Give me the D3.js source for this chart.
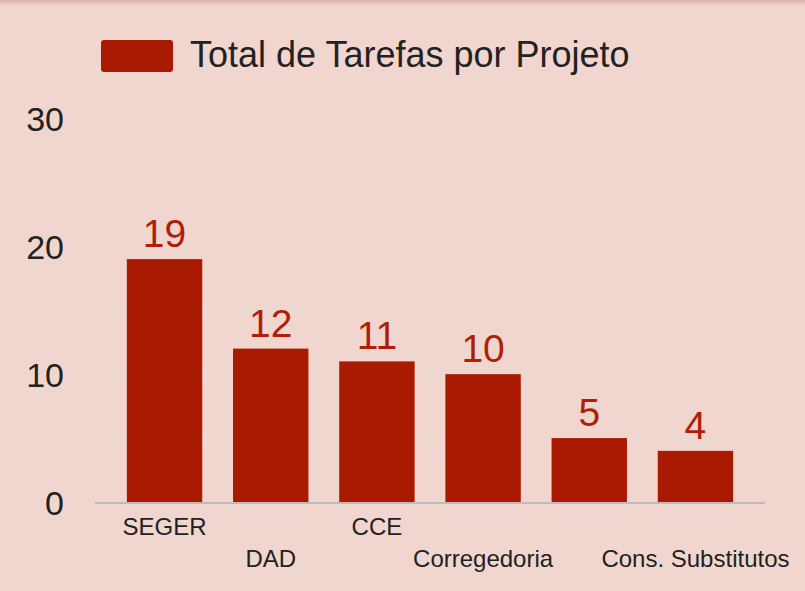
<!DOCTYPE html>
<html>
<head>
<meta charset="utf-8">
<script src="https://cdn.jsdelivr.net/npm/d3@7"></script>
<style>
  html, body { margin: 0; padding: 0; background: #f1d6d0; }
  svg { display: block; font-family: 'Liberation Sans', Arial, sans-serif; }
</style>
</head>
<body>
<figure id="chart" style="margin:0"></figure>
<script>
// chart data
const categories = ['SEGER', 'DAD', 'CCE', 'Corregedoria', '', 'Cons. Substitutos'];
const values = [19, 12, 11, 10, 5, 4];
const yTicks = [0, 10, 20, 30];
const gridTicks = [5, 10, 15, 20, 25, 30];
const legendLabel = 'Total de Tarefas por Projeto';

const width = 805;
const height = 591;
const margin = {top: 107, right: 40, bottom: 89, left: 95};
const barColor = '#aa1a00';

const svg = d3.select('figure#chart')
  .append('svg')
  .attr('width', width)
  .attr('height', height);

// top shadow
const defs = svg.append('defs');
const grad = defs.append('linearGradient')
  .attr('id', 'topShadow')
  .attr('x1', 0).attr('y1', 0).attr('x2', 0).attr('y2', 1);
grad.append('stop').attr('offset', '0%').attr('stop-color', '#d9b5ae');
grad.append('stop').attr('offset', '100%').attr('stop-color', '#f1d6d0');
svg.append('rect')
  .attr('x', 0).attr('y', 0)
  .attr('width', width).attr('height', 6)
  .attr('fill', 'url(#topShadow)');

const x = d3.scaleBand()
  .domain(d3.range(categories.length))
  .range([margin.left, width - margin.right])
  .paddingInner(0.29)
  .paddingOuter(0.3);

const y = d3.scaleLinear()
  .domain([0, 30.9])
  .range([height - margin.bottom, margin.top]);

// gridlines
svg.append('g')
  .selectAll('line')
  .data(gridTicks.concat([y.domain()[1]]))
  .join('line')
  .attr('x1', margin.left + 1)
  .attr('x2', width - margin.right + 1)
  .attr('y1', d => y(d))
  .attr('y2', d => y(d))
  .attr('stroke', '#e6dad6')
  .attr('stroke-width', 2);

// y axis labels
const yAxis = g => g
  .attr('transform', `translate(${margin.left - 31},0)`)
  .call(d3.axisLeft(y).tickValues(yTicks).tickSize(0).tickPadding(0))
  .call(g => g.select('.domain').remove())
  .call(g => g.selectAll('text')
    .attr('fill', '#222')
    .attr('font-size', 34)
    .attr('dy', '0.36em'));

svg.append('g')
  .call(yAxis)
  .attr('font-family', null);

// bars
svg.append('g')
  .selectAll('rect')
  .data(values)
  .join('rect')
  .attr('x', (d, i) => x(i))
  .attr('y', d => y(d))
  .attr('width', x.bandwidth())
  .attr('height', d => y(0) - y(d))
  .attr('fill', barColor);

// value labels
svg.append('g')
  .selectAll('text')
  .data(values)
  .join('text')
  .attr('x', (d, i) => x(i) + x.bandwidth() / 2)
  .attr('y', d => y(d) - 12)
  .attr('text-anchor', 'middle')
  .attr('font-size', 39)
  .attr('fill', '#b01e08')
  .text(d => d);

// x axis line
svg.append('line')
  .attr('x1', margin.left)
  .attr('x2', width - margin.right)
  .attr('y1', y(0) + 1)
  .attr('y2', y(0) + 1)
  .attr('stroke', '#bdbbbb')
  .attr('stroke-width', 2);

// x axis labels, alternating rows
svg.append('g')
  .selectAll('text')
  .data(categories)
  .join('text')
  .attr('x', (d, i) => x(i) + x.bandwidth() / 2)
  .attr('y', (d, i) => y(0) + (i % 2 === 0 ? 33 : 65))
  .attr('text-anchor', 'middle')
  .attr('font-size', 24)
  .attr('fill', '#222')
  .text(d => d);

// legend
const legend = svg.append('g');
legend.append('rect')
  .attr('x', 101).attr('y', 40)
  .attr('width', 72).attr('height', 32)
  .attr('rx', 3)
  .attr('fill', barColor);
legend.append('text')
  .attr('x', 190).attr('y', 67)
  .attr('font-size', 36)
  .attr('fill', '#222')
  .text(legendLabel);
</script>
</body>
</html>
